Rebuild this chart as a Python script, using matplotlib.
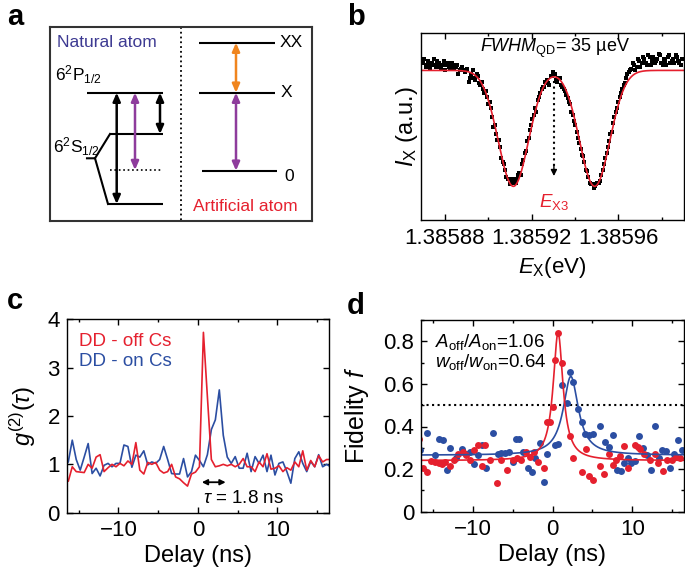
import numpy as np
import matplotlib
matplotlib.use("Agg")
import matplotlib.pyplot as plt
from matplotlib.ticker import MultipleLocator, FixedLocator, FuncFormatter

plt.rcParams['font.family'] = ['Liberation Sans', 'DejaVu Sans']
plt.rcParams['mathtext.fontset'] = 'custom'
plt.rcParams['mathtext.rm'] = 'Liberation Sans'
plt.rcParams['mathtext.it'] = 'Liberation Sans:italic'
plt.rcParams['mathtext.bf'] = 'Liberation Sans:bold'
plt.rcParams['font.size'] = 13
plt.rcParams['axes.linewidth'] = 1.0

RED = '#e5202e'
BLUE = '#2b4ea2'
NAVY = '#3d3a92'
PURPLE = '#8e3c9c'
ORANGE = '#f0851e'
TICK_FS = 16
LABEL_FS = 17

# ---- panel b: transmission scan (I_X in % of axis height) ----
scan_start = 1.38587      # eV
scan_step = 0.6e-6        # eV
ix_data = [84, 86, 82, 83, 85, 81, 83, 84, 86, 83, 82, 85, 84, 82, 81, 83, 85, 80, 83, 84,
           82, 81, 84, 83, 81, 82, 83, 78, 80, 81, 82, 80, 79, 80, 81, 74, 76, 78, 80, 76,
           75, 78, 77, 73, 72, 74, 70, 68, 69, 66, 62, 63, 60, 55, 50, 51, 46, 43, 43, 39,
           33, 31, 30, 27, 23, 22, 22, 19, 20, 22, 21, 20, 22, 24, 25, 24, 30, 32, 36, 37,
           42, 44, 48, 51, 54, 56, 60, 58, 64, 66, 68, 70, 71, 71, 74, 75, 73, 72, 77, 77,
           79, 78, 75, 74, 76, 76, 72, 71, 70, 69, 67, 65, 63, 62, 58, 56, 53, 51, 47, 44,
           41, 38, 35, 34, 31, 27, 26, 23, 20, 19, 19, 17, 18, 19, 20, 20, 21, 24, 27, 30,
           33, 36, 39, 42, 46, 47, 52, 55, 58, 60, 63, 66, 68, 70, 72, 73, 76, 78, 79, 80,
           81, 84, 83, 80, 82, 86, 85, 82, 84, 87, 86, 84, 83, 88, 87, 83, 85, 87, 84, 85,
           86, 89, 88, 84, 83, 86, 85, 83, 87, 88, 84, 85, 86, 84, 88, 87, 85, 84, 83, 86,
           86]
# double-gaussian fit
fit_base = 80.0
fit_depth = 62.0
fit_centers = [1.3859116, 1.3859491]
fit_sigma = 7.0e-6
e_x3 = 1.3859303

# ---- panel c: g2(tau) ----
c_delay0, c_bin = -16.8, 0.5
g2_off = [0.70, 0.65, 0.95, 0.85, 0.84, 0.83, 1.00, 0.92, 1.15, 1.20,
          0.85, 0.93, 1.00, 0.95, 1.02, 0.97, 1.07, 1.00, 1.45, 0.88,
          0.80, 1.04, 1.00, 1.04, 0.88, 0.82, 0.85, 1.00, 0.74, 0.70,
          0.62, 0.55, 0.80, 0.84, 0.95, 3.73, 2.40, 1.10, 0.95, 0.97,
          1.00, 0.97, 1.00, 0.95, 1.00, 1.12, 0.95, 0.95, 0.85, 1.05,
          0.95, 1.22, 0.90, 0.92, 0.97, 0.85, 0.93, 0.88, 1.05, 0.95,
          1.28, 0.88, 1.08, 0.95, 1.18, 1.05, 1.10, 1.10]
g2_on = [0.95, 1.05, 1.50, 1.10, 0.88, 1.15, 1.43, 0.81, 0.92, 0.76,
         0.98, 1.02, 0.95, 1.02, 1.02, 1.40, 1.37, 0.94, 1.19, 1.15,
         1.28, 0.99, 1.05, 1.02, 1.10, 1.37, 1.10, 0.81, 0.80, 0.80,
         1.12, 0.74, 0.85, 1.19, 1.08, 0.95, 1.20, 1.72, 1.92, 2.54,
         1.60, 1.15, 1.02, 1.16, 0.92, 0.92, 1.23, 0.85, 1.16, 1.02,
         1.19, 0.85, 1.19, 0.78, 1.02, 1.05, 0.85, 0.61, 1.12, 1.26,
         1.02, 0.85, 1.06, 0.95, 1.20, 0.95, 1.00, 0.95]

# ---- panel d: fidelity ----
off_delay = [-16.7, -16.3, -15.7, -15.2, -14.7, -14.3, -13.9, -13.5, -12.9, -12.4,
             -11.8, -11.2, -10.8, -10.3, -9.8, -9.3, -8.9, -8.5, -7.8, -7.0,
             -6.4, -5.7, -5.0, -4.5, -3.9, -3.3, -2.8, -2.3, -1.8, -1.1,
             -0.7, -0.35, 0.05, 0.3, 0.7, 1.15, 2.2, 2.6, 3.7, 4.2,
             4.6, 5.1, 6.0, 6.5, 7.1, 7.6, 8.0, 8.5, 9.0, 9.5,
             10.4, 10.7, 11.0, 11.5, 12.2, 12.9, 13.3, 13.9, 14.4, 15.0,
             15.5, 16.0]
off_fid = [0.34, 0.207, 0.187, 0.24, 0.234, 0.229, 0.226, 0.234, 0.214, 0.242,
           0.273, 0.281, 0.265, 0.245, 0.292, 0.312, 0.214, 0.312, 0.245, 0.136,
           0.242, 0.198, 0.242, 0.25, 0.242, 0.281, 0.257, 0.28, 0.234, 0.203,
           0.42, 0.42, 0.49, 0.71, 0.84, 0.70, 0.354, 0.25, 0.187, 0.296,
           0.167, 0.151, 0.214, 0.176, 0.273, 0.218, 0.242, 0.26, 0.307, 0.203,
           0.312, 0.304, 0.296, 0.273, 0.245, 0.273, 0.229, 0.192, 0.245, 0.242,
           0.257, 0.25]
on_delay = [-16.6, -15.8, -14.7, -14.2, -13.7, -13.3, -12.8, -12.1, -11.4, -10.8,
            -10.3, -9.9, -9.4, -8.9, -8.3, -7.5, -6.9, -6.5, -5.9, -5.5,
            -5.0, -4.6, -4.2, -3.7, -3.1, -2.6, -2.2, -1.6, -1.1, -0.7,
            0.3, 0.7, 1.2, 1.8, 2.2, 2.6, 3.2, 3.7, 4.1, 4.6,
            5.1, 6.0, 6.6, 7.1, 7.6, 8.1, 8.6, 9.0, 9.5, 9.9,
            10.4, 10.9, 11.3, 11.8, 12.3, 12.9, 13.4, 13.8, 14.3, 14.8,
            15.3, 15.8, 16.2]
on_fid = [0.289, 0.370, 0.265, 0.343, 0.336, 0.198, 0.301, 0.250, 0.296, 0.273,
          0.281, 0.226, 0.265, 0.315, 0.203, 0.370, 0.273, 0.276, 0.276, 0.281,
          0.234, 0.343, 0.339, 0.281, 0.203, 0.187, 0.250, 0.323, 0.140, 0.273,
          0.313, 0.317, 0.594, 0.510, 0.656, 0.609, 0.484, 0.420, 0.364, 0.359,
          0.367, 0.401, 0.328, 0.304, 0.359, 0.198, 0.192, 0.229, 0.250, 0.229,
          0.240, 0.354, 0.301, 0.265, 0.195, 0.401, 0.254, 0.292, 0.286, 0.207,
          0.270, 0.335, 0.289]
# lorentzian fits: baseline, amplitude, centre, half width
off_fit = (0.24, 0.60, 0.7, 0.75)
on_fit = (0.265, 0.37, 2.3, 1.15)


def lorentz(x, p):
    y0, a, x0, g = p
    return y0 + a / (1 + ((x - x0) / g) ** 2)


def style_ticks(ax):
    ax.tick_params(which='both', direction='in', top=True, right=True, width=1)
    ax.tick_params(which='major', length=4, labelsize=TICK_FS, pad=5)
    ax.tick_params(which='minor', length=2.5)


fig = plt.figure(figsize=(6.85, 5.72), dpi=100)

# ================= a =================
axa = fig.add_axes([50 / 685, 1 - 221 / 572, 262 / 685, 194.3 / 572])
axa.set_xlim(50, 312)
axa.set_ylim(221, 26.7)
axa.set_xticks([])
axa.set_yticks([])
for s in axa.spines.values():
    s.set_linewidth(1.5)
    s.set_color('#333333')
axa.plot([181, 181], [26.7, 221], ls=':', color='k', lw=1.3)

lvl = dict(color='k', lw=1.5, solid_capstyle='butt')
# natural atom levels
axa.plot([87, 163], [92.7, 92.7], **lvl)
axa.plot([110, 163], [134, 134], **lvl)
axa.plot([108, 163], [204, 204], **lvl)
axa.plot([110, 163], [170, 170], ls=':', color='k', lw=1.2)
axa.plot([87, 95, 110], [158.3, 158.3, 134], color='k', lw=1.5)
axa.plot([95, 108], [158.3, 204], color='k', lw=1.5)
# artificial atom levels
axa.plot([199, 275], [42.7, 42.7], **lvl)
axa.plot([199, 275], [92.7, 92.7], **lvl)
axa.plot([201.5, 276.5], [170.7, 170.7], **lvl)


def dbl_arrow(x, y1, y2, color):
    axa.annotate('', xy=(x, y2), xytext=(x, y1),
                 arrowprops=dict(arrowstyle='<|-|>,head_length=0.5,head_width=0.22',
                                 color=color, lw=1.8, mutation_scale=10,
                                 shrinkA=0, shrinkB=0))


dbl_arrow(116.7, 92.7, 204, 'k')
dbl_arrow(135, 92.7, 170, PURPLE)
dbl_arrow(160, 92.7, 134, 'k')
dbl_arrow(236, 42.7, 92.7, ORANGE)
dbl_arrow(236, 92.7, 170.7, PURPLE)

axa.text(57, 43, 'Natural atom', color=NAVY, fontsize=12.5, va='center')
axa.text(55, 75, r'$6^2\mathrm{P}_{1/2}$', fontsize=12.5, va='center')
axa.text(53, 147, r'$6^2\mathrm{S}_{1/2}$', fontsize=12.5, va='center')
axa.text(280, 43, 'XX', fontsize=12.5, va='center')
axa.text(281, 93, 'X', fontsize=12.5, va='center')
axa.text(284, 177, '0', fontsize=12.5, va='center')
axa.text(193, 207, 'Artificial atom', color=RED, fontsize=12.5, va='center')

# ================= b =================
axb = fig.add_axes([421 / 685, 1 - 220 / 572, 263 / 685, 187 / 572])
energy = scan_start + scan_step * np.arange(len(ix_data))
axb.plot(energy, ix_data, 's', color='k', ms=3.5, mew=0, clip_on=True)
e_fine = np.linspace(1.385869, 1.3859903, 600)
ix_fit = fit_base - fit_depth * sum(np.exp(-(e_fine - c) ** 2 / (2 * fit_sigma ** 2))
                                    for c in fit_centers)
axb.plot(e_fine, ix_fit, color=RED, lw=1.2)
axb.set_xlim(1.385869, 1.3859903)
axb.set_ylim(0, 100)
axb.xaxis.set_major_locator(FixedLocator([1.38588, 1.38592, 1.38596]))
axb.xaxis.set_minor_locator(FixedLocator([1.38590, 1.38594, 1.38598]))
axb.set_xticklabels(['1.38588', '1.38592', '1.38596'])
axb.set_yticks([])
axb.tick_params(which='both', direction='in', top=True, width=1)
axb.tick_params(which='major', length=4, labelsize=TICK_FS, pad=6)
axb.tick_params(which='minor', length=2.5)
axb.plot([e_x3, e_x3], [74.5, 29], ls=':', color='k', lw=1.5)
axb.annotate('', xy=(e_x3, 23.5), xytext=(e_x3, 29.5),
             arrowprops=dict(arrowstyle='-|>', color='k', lw=1, mutation_scale=9,
                             shrinkA=0, shrinkB=0))
axb.text(e_x3, 9.7, r'$E_{\mathrm{X3}}$', color=RED, ha='center', va='center', fontsize=13.5)
axb.text(1.385931, 91.5, r'$FWHM_{\mathrm{QD}}$= 35 µeV', ha='center', va='center', fontsize=13)
axb.set_xlabel(r'$E_{\mathrm{X}}$(eV)', fontsize=LABEL_FS - 1)
axb.set_ylabel(r'$I_{\mathrm{X}}$ (a.u.)', fontsize=LABEL_FS)
axb.xaxis.label.set_va('center')
axb.yaxis.label.set_va('center')
axb.xaxis.set_label_coords(0.5, -0.255)
axb.yaxis.set_label_coords(-0.053, 0.5)

# ================= c =================
axc = fig.add_axes([66.7 / 685, 1 - 512.7 / 572, 262.3 / 685, 193.4 / 572])
delay_c = c_delay0 + c_bin * np.arange(len(g2_off))
axc.plot(delay_c, g2_on, color=BLUE, lw=1.2)
axc.plot(delay_c, g2_off, color=RED, lw=1.2)
axc.set_xlim(-16.5, 16.5)
axc.set_ylim(0, 4)
axc.xaxis.set_major_locator(MultipleLocator(10))
axc.xaxis.set_minor_locator(MultipleLocator(5))
axc.yaxis.set_major_locator(MultipleLocator(1))
style_ticks(axc)
axc.text(-14.9, 3.55, 'DD - off Cs', color=RED, va='center', fontsize=13.5)
axc.text(-14.9, 3.12, 'DD - on Cs', color=BLUE, va='center', fontsize=13.5)
axc.annotate('', xy=(3.5, 0.63), xytext=(0.5, 0.63),
             arrowprops=dict(arrowstyle='<|-|>', color='k', lw=1.3, mutation_scale=8,
                             shrinkA=0, shrinkB=0))
axc.text(0.6, 0.30, r'$\tau$ = 1.8 ns', va='center', fontsize=13.5)
axc.set_xlabel('Delay (ns)', fontsize=LABEL_FS)
axc.set_ylabel(r'$g^{(2)}(\tau)$', fontsize=LABEL_FS)
axc.xaxis.label.set_va('center')
axc.yaxis.label.set_va('center')
axc.xaxis.set_label_coords(0.5, -0.222)
axc.yaxis.set_label_coords(-0.167, 0.5)

# ================= d =================
axd = fig.add_axes([421 / 685, 1 - 511.7 / 572, 263 / 685, 191.7 / 572])
t_fine = np.linspace(-16.5, 16.5, 800)
axd.axhline(0.5, color='k', ls=':', lw=1.5)
axd.plot(on_delay, on_fid, 'o', color=BLUE, ms=5, mew=0)
axd.plot(off_delay, off_fid, 'o', color=RED, ms=5, mew=0)
axd.plot(t_fine, lorentz(t_fine, on_fit), color=BLUE, lw=1.2)
axd.plot(t_fine, lorentz(t_fine, off_fit), color=RED, lw=1.2)
axd.set_xlim(-16.5, 16.5)
axd.set_ylim(0, 0.9)
axd.xaxis.set_major_locator(MultipleLocator(10))
axd.xaxis.set_minor_locator(MultipleLocator(5))
axd.yaxis.set_major_locator(MultipleLocator(0.2))
axd.yaxis.set_minor_locator(MultipleLocator(0.1))
axd.yaxis.set_major_formatter(FuncFormatter(lambda v, p: '0' if abs(v) < 1e-9 else f'{v:.1f}'))
style_ticks(axd)
axd.text(-14.7, 0.796, r'$A_{\mathrm{off}}/A_{\mathrm{on}}$=1.06', va='center', fontsize=13.5)
axd.text(-14.7, 0.703, r'$w_{\mathrm{off}}/w_{\mathrm{on}}$=0.64', va='center', fontsize=13.5)
axd.set_xlabel('Delay (ns)', fontsize=LABEL_FS)
axd.set_ylabel(r'Fidelity $f$', fontsize=LABEL_FS + 1)
axd.xaxis.label.set_va('center')
axd.yaxis.label.set_va('center')
axd.xaxis.set_label_coords(0.5, -0.228)
axd.yaxis.set_label_coords(-0.243, 0.5)

# panel letters
for letter, px, py in [('a', 7, 25), ('b', 347, 25), ('c', 7, 309), ('d', 347, 314)]:
    fig.text(px / 685, 1 - py / 572, letter, fontsize=21, fontweight='bold',
             ha='left', va='baseline')

fig.savefig('out.png', dpi=100)
